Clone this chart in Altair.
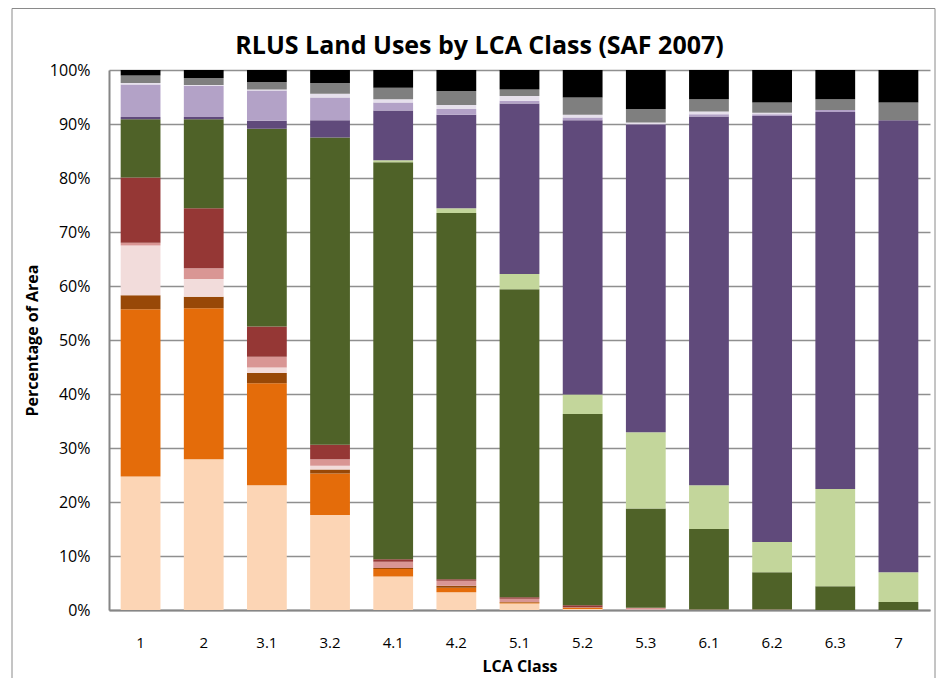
import altair as alt
import pandas as pd

# LCA classes (x categories)
classes = ["1", "2", "3.1", "3.2", "4.1", "4.2", "5.1", "5.2", "5.3", "6.1", "6.2", "6.3", "7"]

# Land-use series, bottom of stack to top (no legend shown in the reference)
series_names = [f"Land use {i}" for i in range(1, 14)]
series_colors = ["#FCD5B5", "#E46C0A", "#984807", "#F2DCDB", "#D99694", "#953735",
                 "#4F6228", "#C3D69B", "#604A7B", "#B3A2C7", "#E6E0EC", "#7F7F7F", "#000000"]

# Percent of area per class
s01 = [24.7, 27.9, 23.1, 17.6, 6.2, 3.3, 1.2, 0.2, 0.0, 0.0, 0.0, 0.0, 0.0]
s02 = [31.0, 28.0, 18.9, 7.7, 1.4, 0.8, 0.2, 0.2, 0.0, 0.0, 0.0, 0.0, 0.0]
s03 = [2.6, 2.1, 1.9, 0.7, 0.2, 0.4, 0.1, 0.05, 0.0, 0.0, 0.0, 0.0, 0.0]
s04 = [9.2, 3.3, 1.0, 0.7, 0.0, 0.0, 0.0, 0.0, 0.1, 0.0, 0.0, 0.0, 0.0]
s05 = [0.5, 2.0, 2.0, 1.2, 1.15, 0.9, 0.6, 0.05, 0.3, 0.1, 0.1, 0.0, 0.0]
s06 = [12.1, 11.1, 5.6, 2.7, 0.45, 0.3, 0.25, 0.4, 0.0, 0.0, 0.0, 0.0, 0.0]
s07 = [10.8, 16.5, 36.6, 56.9, 73.5, 67.8, 57.05, 35.4, 18.4, 14.9, 6.9, 4.4, 1.5]
s08 = [0.0, 0.0, 0.0, 0.0, 0.4, 0.9, 2.8, 3.6, 14.1, 8.1, 5.6, 18.0, 5.5]
s09 = [0.4, 0.4, 1.5, 3.2, 9.2, 17.3, 31.6, 50.8, 57.0, 68.3, 78.9, 69.8, 83.7]
s10 = [6.0, 5.8, 5.6, 4.2, 1.5, 1.1, 0.5, 0.5, 0.1, 0.4, 0.3, 0.4, 0.0]
s11 = [0.3, 0.1, 0.2, 0.7, 0.6, 0.7, 0.9, 0.5, 0.3, 0.5, 0.3, 0.0, 0.0]
s12 = [1.4, 1.3, 1.4, 2.0, 2.1, 2.6, 1.2, 3.2, 2.5, 2.3, 1.9, 2.0, 3.3]
s13 = [1.0, 1.5, 2.2, 2.4, 3.3, 3.9, 3.6, 5.1, 7.2, 5.4, 6.0, 5.4, 6.0]

y_ticks = [0, 0.1, 0.2, 0.3, 0.4, 0.5, 0.6, 0.7, 0.8, 0.9, 1.0]

all_series = [s01, s02, s03, s04, s05, s06, s07, s08, s09, s10, s11, s12, s13]
rows = []
for idx, (name, vals) in enumerate(zip(series_names, all_series)):
    for cls, v in zip(classes, vals):
        rows.append({"LCA Class": cls, "series": name, "idx": idx, "value": v})
df = pd.DataFrame(rows)

FONT = "Open Sans"

bars = alt.Chart(df).mark_bar().encode(
    x=alt.X("LCA Class:N", sort=classes,
            scale=alt.Scale(paddingInner=0.37, paddingOuter=0.185),
            axis=alt.Axis(title="LCA Class", labelAngle=0, ticks=False, tickSize=0,
                          grid=False, domainColor="#868686", domainWidth=2,
                          labelBaseline="middle", labelPadding=32,
                          labelFontSize=15, labelColor="#000000", labelFont=FONT,
                          titleFont=FONT, titleFontSize=16, titleFontWeight="bold",
                          titleColor="#000000", titleY=56, titleBaseline="middle")),
    y=alt.Y("value:Q", stack="normalize",
            axis=alt.Axis(title="Percentage of Area", format=".0%", values=y_ticks,
                          ticks=False, tickSize=0, grid=True, gridColor="#8F8F8F",
                          gridWidth=1.5, domainColor="#868686", domainWidth=2,
                          labelPadding=19, labelFontSize=16, labelColor="#000000",
                          labelFont=FONT, titleFont=FONT, titleFontSize=16,
                          titleFontWeight="bold", titleColor="#000000",
                          titleX=-77, titleY=270, titleAngle=270,
                          titleBaseline="middle", titleAlign="center")),
    color=alt.Color("series:N", scale=alt.Scale(domain=series_names, range=series_colors),
                    legend=None),
    order=alt.Order("idx:Q", sort="ascending"),
)

frame = alt.Chart(pd.DataFrame({"a": [0]})).mark_rect(
    fillOpacity=0, stroke="#8A8A8A", strokeWidth=1
).encode(
    x=alt.value(-97), x2=alt.value(826), y=alt.value(-61.5), y2=alt.value(640)
)

chart = alt.layer(bars, frame).properties(
    width=821, height=540,
    padding={"left": 101, "top": 62, "right": 7, "bottom": 68},
    autosize=alt.AutoSizeParams(type="none"),
    title=alt.TitleParams("RLUS Land Uses by LCA Class (SAF 2007)", font=FONT,
                          fontSize=25, fontWeight="bold", color="#000000",
                          anchor="middle", dx=-40, dy=51, offset=0),
).configure_view(stroke="transparent")

chart.save("out.html", embed_options={"renderer": "svg", "actions": False})
